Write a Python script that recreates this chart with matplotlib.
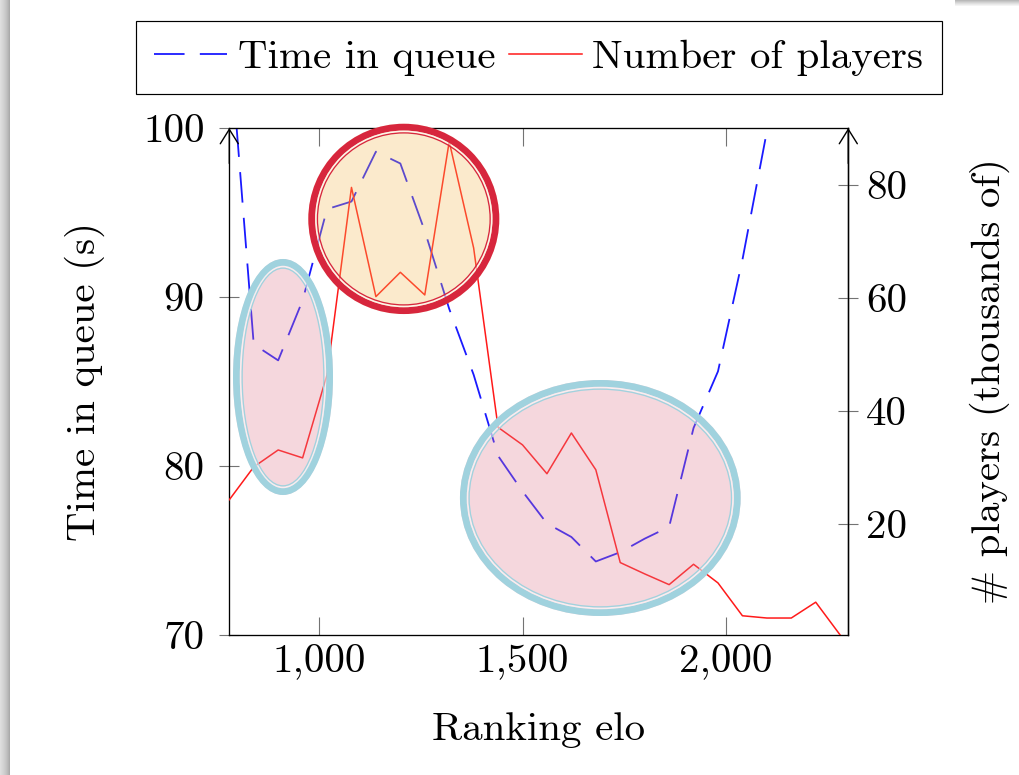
import matplotlib
matplotlib.use("Agg")
import matplotlib.pyplot as plt
from matplotlib.patches import Ellipse, Rectangle
from matplotlib.lines import Line2D

plt.rcParams['font.family'] = ['cmr10', 'DejaVu Serif']
plt.rcParams['axes.formatter.use_mathtext'] = True
plt.rcParams['lines.scale_dashes'] = False

# ---------------- data ----------------
elo_queue = [780, 840, 900, 960, 1020, 1080, 1140, 1200, 1260, 1320, 1380, 1440,
             1500, 1560, 1620, 1680, 1740, 1800, 1860, 1920, 1980, 2040, 2100, 2160]
time_in_queue = [105.5, 87.2, 86.25, 89.8, 95.2, 95.65, 98.6, 97.9, 93.9, 89.3, 85.4, 80.6,
                 78.5, 76.6, 75.8, 74.35, 74.9, 75.7, 76.4, 82.25, 85.6, 92.2, 99.8, 107.0]

elo_players = [780, 840, 900, 960, 1020, 1080, 1140, 1200, 1260, 1320, 1380, 1440, 1500,
               1560, 1620, 1680, 1740, 1800, 1860, 1920, 1980, 2040, 2100, 2160, 2220, 2280]
num_players = [24.3, 30.1, 33.1, 31.7, 46.4, 79.5, 60.2, 64.5, 60.5, 87.6, 68.8, 37.1, 34.0,
               28.9, 36.1, 29.6, 13.2, 11.2, 9.3, 12.9, 9.6, 3.8, 3.4, 3.4, 6.2, 0.4]

x_ticks = [1000, 1500, 2000]
x_ticklabels = ['1,000', '1,500', '2,000']
left_ticks = [70, 80, 90, 100]
right_ticks = [20, 40, 60, 80]

series_labels = ['Time in queue', 'Number of players']
x_label = 'Ranking elo'
left_label = 'Time in queue (s)'
right_label = '# players (thousands of)'

# ---------------- layout ----------------
W, H = 1019, 775
PX = 72 / 100.0  # points per pixel
FS = 29.5
BLUE = '#1a1aff'
RED = '#ff1a1a'

fig = plt.figure(figsize=(W / 100, H / 100), dpi=100)
fig.patch.set_facecolor('white')

ax_l, ax_r, ax_t, ax_b = 229.3, 848.3, 128.0, 635.0
ax = fig.add_axes([ax_l / W, 1 - ax_b / H, (ax_r - ax_l) / W, (ax_b - ax_t) / H])
ax2 = ax.twinx()

ax.plot(elo_queue, time_in_queue, color=BLUE, lw=1.3,
        dashes=(22, 11), dash_capstyle='butt')
ax2.plot(elo_players, num_players, color=RED, lw=1.1)

ax.set_xlim(780, 2300)
ax.set_ylim(70, 100)
ax2.set_ylim(0.4, 90)

ax.set_xticks(x_ticks)
ax.set_xticklabels(x_ticklabels)
ax.set_yticks(left_ticks)
ax.set_yticklabels([str(v) for v in left_ticks])
ax2.set_yticks(right_ticks)
ax2.set_yticklabels([str(v) for v in right_ticks])

tick_col = '0.45'
ax.tick_params(axis='x', direction='in', length=18 * PX, width=0.8, color=tick_col,
               top=True, labelsize=FS, pad=6.5)
ax.tick_params(axis='y', direction='inout', length=20 * PX, width=0.8, color=tick_col,
               labelsize=FS, pad=10.5)
ax2.tick_params(axis='y', direction='inout', length=20 * PX, width=0.8, color=tick_col,
                labelsize=FS, pad=5.5)

for s in ax.spines.values():
    s.set_linewidth(0.95)
    s.set_color('black')
for name in ['left', 'top', 'bottom']:
    ax2.spines[name].set_visible(False)
ax2.spines['right'].set_linewidth(0.95)

# axis arrows
for xpos in [0.0, 1.0]:
    ax.annotate('', xy=(xpos, 1.0), xycoords='axes fraction', xytext=(xpos, 0.93),
                textcoords='axes fraction',
                arrowprops=dict(arrowstyle='->,head_length=0.4,head_width=0.25',
                                lw=1.0, color='black', shrinkA=0, shrinkB=0,
                                mutation_scale=26), annotation_clip=False)

# labels
ax.set_ylabel(left_label, fontsize=FS, rotation=90, va='center', ha='center',
              rotation_mode='default')
ax.yaxis.set_label_coords((85 - ax_l) / (ax_r - ax_l), 0.5)
ax2.set_ylabel(right_label, fontsize=FS, rotation=90, va='center', ha='center',
               rotation_mode='default')
ax2.yaxis.set_label_coords((990 - ax_l) / (ax_r - ax_l), 0.5)
ax.set_xlabel(x_label, fontsize=FS, va='center', ha='center')
ax.xaxis.set_label_coords(0.5, (ax_b - 730) / (ax_b - ax_t))

# legend
h1 = Line2D([], [], color=BLUE, lw=1.3, dashes=(22, 11))
h2 = Line2D([], [], color=RED, lw=1.1)
leg = ax.legend([h1, h2], series_labels, loc='center', ncol=2,
                bbox_to_anchor=(538.6 / W, 1 - 57.5 / H), bbox_transform=fig.transFigure,
                fontsize=FS, frameon=True, fancybox=False, framealpha=1,
                edgecolor='black', handlelength=1.78, handletextpad=0.26,
                columnspacing=0.33, borderpad=0.45, borderaxespad=0)
leg.get_frame().set_linewidth(0.85)

# highlight ellipses (figure pixel coordinates)
def ring(cx, cy, w, h, overlay, edge):
    def E(ww, hh, **kw):
        return Ellipse((cx / W, 1 - cy / H), ww / W, hh / H,
                       transform=fig.transFigure, **kw)
    fig.add_artist(E(w, h, facecolor=overlay, alpha=0.3, edgecolor='none', zorder=5))
    band = 6.8
    fig.add_artist(E(w - band, h - band, facecolor='none', edgecolor=edge,
                     lw=band * PX, zorder=6))
    gap = 1.7
    fig.add_artist(E(w - 2 * band - gap, h - 2 * band - gap, facecolor='none',
                     edgecolor='white', alpha=0.55, lw=gap * PX, zorder=6))
    inner = band + gap + 0.65
    fig.add_artist(E(w - 2 * inner, h - 2 * inner, facecolor='none', edgecolor=edge,
                     lw=1.3 * PX, zorder=6))

ring(283.0, 377.0, 100.0, 236.0, (225 / 255, 125 / 255, 145 / 255), '#a0d2de')
ring(403.8, 218.9, 191.0, 190.3, (245 / 255, 188 / 255, 88 / 255), '#d7263d')
ring(600.3, 498.0, 280.7, 236.0, (225 / 255, 125 / 255, 145 / 255), '#a0d2de')

# screenshot shadow edges
left_greys = ['#dedede', '#dadada', '#d6d6d6', '#d2d2d2', '#cdcdcd', '#c8c8c8',
              '#c2c2c2', '#bbbbbb', '#b3b3b3', '#aaaaaa']
for i, g in enumerate(left_greys):
    fig.add_artist(Rectangle((i / W, 0), 1 / W, 1, transform=fig.transFigure,
                             facecolor=g, edgecolor='none', zorder=1))
top_greys = ['#b9b9b9', '#c6c6c6', '#d3d3d3', '#dfdfdf', '#eaeaea', '#f4f4f4']
for j, g in enumerate(top_greys):
    fig.add_artist(Rectangle((955 / W, 1 - (j + 1) / H), 64 / W, 1 / H,
                             transform=fig.transFigure, facecolor=g,
                             edgecolor='none', zorder=1))

fig.savefig('out.png', dpi=100, facecolor='white')
